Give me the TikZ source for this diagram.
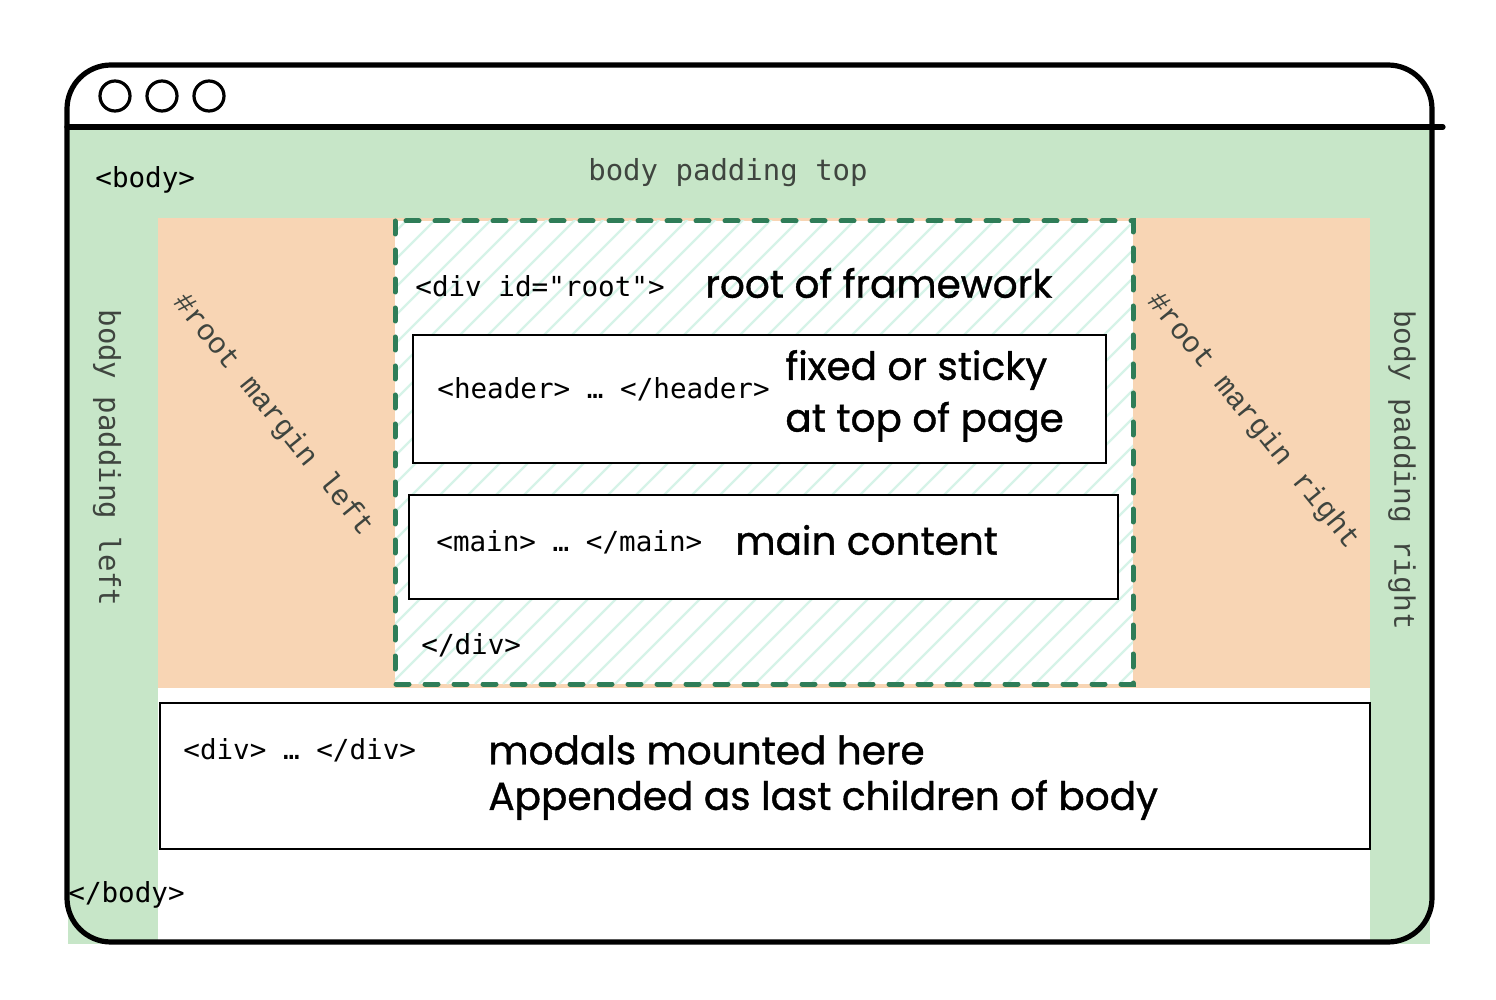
\documentclass[tikz,border=0pt]{standalone}
\usepackage{fontspec}
\setmainfont{Poppins}
\newfontfamily\codefont{DejaVu Sans Mono}
\newfontfamily\courfont{Liberation Mono}
\newfontfamily\handfont[FakeBold=1]{Poppins}
\definecolor{padgreen}{HTML}{C7E6C8}
\definecolor{marginorange}{HTML}{F8D5B4}
\definecolor{hatchmint}{HTML}{D6F3E8}
\definecolor{rootgreen}{HTML}{2F7D58}
\definecolor{labelgray}{HTML}{3F453F}
\begin{document}
\begin{tikzpicture}[x=0.5pt,y=-0.5pt,
  code/.style={font=\codefont\fontsize{13.8pt}{16pt}\selectfont, text=black, inner sep=0pt},
  padlabel/.style={font=\codefont\fontsize{14.5pt}{16pt}\selectfont, text=labelgray, inner sep=0pt},
  marginlabel/.style={font=\courfont\fontsize{14.8pt}{16pt}\selectfont, text=labelgray, inner sep=0pt},
  hand/.style={font=\handfont\fontsize{19.5pt}{22pt}\selectfont, text=black, inner sep=0pt, anchor=west},
  elemframe/.style={draw=black, line width=0.75pt, fill=white},
  frameline/.style={draw=black, line width=2.6pt},
  rootborder/.style={draw=rootgreen, line width=2.5pt, dash pattern=on 6.5pt off 8pt, line cap=round}]
\useasboundingbox (0,0) rectangle (1496,1000);

% body padding, margins and the empty strip under #root
\fill[padgreen] (68,128) rectangle (1430,944);
\fill[marginorange] (158,218) rectangle (1370,688);
\fill[white] (158,688) rectangle (1370,942);

% #root container with hatching
\fill[white] (395,221) rectangle (1133,684);
\begin{scope}
  \clip (395,221) rectangle (1133,684);
  \foreach \i in {0,28,...,1260}
    \draw[hatchmint, line width=1.2pt] (\i+395-480,684) -- (\i+395,204);
\end{scope}
\draw[rootborder] (395,221) rectangle (1133,684);

% child elements
\draw[elemframe] (413,335) rectangle (1106,463);
\draw[elemframe] (409,495) rectangle (1118,599);
\draw[elemframe] (160,703) rectangle (1370,849);

% browser window
\draw[frameline, rounded corners=22pt] (67,127) -- (67,65) -- (1432,65) -- (1432,127);
\draw[frameline, rounded corners=22pt] (67,127) -- (67,942) -- (1432,942) -- (1432,127);
\draw[frameline, line cap=round] (67,127) -- (1443,127);
\foreach \cx in {115,162,209}
  \draw[black, line width=1.6pt] (\cx,96) circle (15);

% labels
\node[code, anchor=west] (bodyopen) at (95,180) {<body>};
\node[code, anchor=west] (bodyclose) at (68,895) {</body>};
\node[padlabel] (padtop) at (728,173) {body padding top};
\node[padlabel, rotate=-90] (padleft) at (107,458) {body padding left};
\node[marginlabel, rotate=-90] (padright) at (1402,470) {body padding right};
\node[marginlabel, rotate=-51] (marginleft) at (273,415) {\#root margin left};
\node[marginlabel, rotate=-51] (marginright) at (1253,421) {\#root margin right};

\node[code, anchor=west] (rootopen) at (415,286) {<div id="root">};
\node[hand] (roottext) at (705,283) {root of framework};
\node[code, anchor=west] (headertag) at (437,389) {<header> … </header>};
\node[hand] (headertextA) at (785,370) {fixed or sticky};
\node[hand] (headertextB) at (785,422) {at top of page};
\node[code, anchor=west] (maintag) at (436,542) {<main> … </main>};
\node[hand] (maintext) at (735,540) {main content};
\node[code, anchor=west] (rootclose) at (421,645) {</div>};
\node[code, anchor=west] (modaltag) at (183,750) {<div> … </div>};
\node[hand] (modaltextA) at (488,750) {modals mounted here};
\node[hand] (modaltextB) at (488,800) {Appended as last children of body};
\end{tikzpicture}
\end{document}
